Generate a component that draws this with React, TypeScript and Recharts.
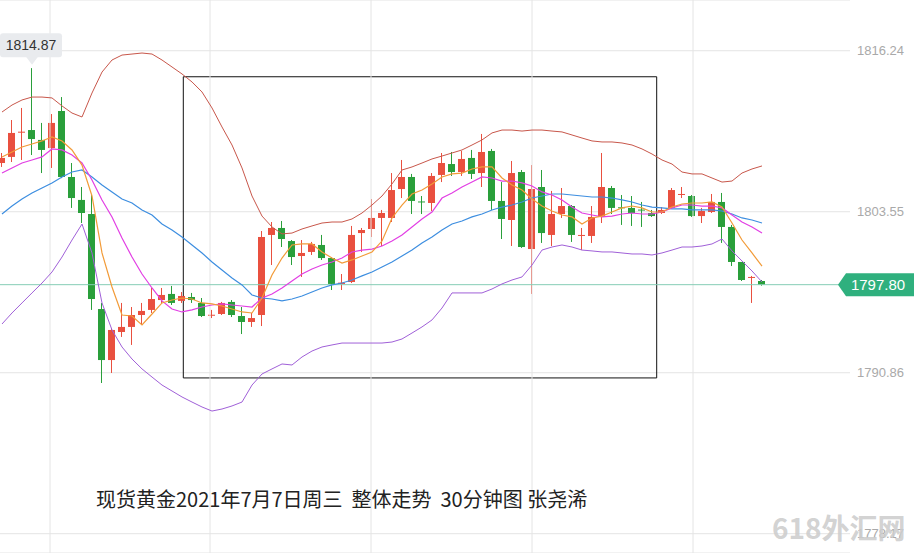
import React from "react";
import {
  ComposedChart,
  Bar,
  Line,
  XAxis,
  YAxis,
  CartesianGrid,
  ReferenceLine,
  ReferenceArea,
  ReferenceDot,
} from "recharts";

// 30-minute candles, spot gold, 2021-07-07
const openP = [
  1807.39, 1807.87, 1809.82, 1809.99, 1809.21, 1808.57, 1811.49, 1806.29, 1804.48, 1803.37,
  1795.88, 1791.86, 1794.07, 1794.47, 1795.41, 1795.81, 1796.59, 1797.07, 1796.52, 1796.83,
  1796.36, 1795.39, 1795.49, 1796.44, 1795.33, 1794.86, 1795.41, 1801.72, 1802.27, 1801.24,
  1800.06, 1800.38, 1800.93, 1799.9, 1797.86, 1798.01, 1801.87, 1802.19, 1803.06, 1803.06,
  1805.34, 1806.29, 1804.36, 1804.24, 1806.45, 1807.31, 1806.68, 1807.79, 1806.6, 1808.34,
  1804.4, 1802.9, 1806.68, 1800.61, 1805.5, 1801.72, 1803.37, 1804.0, 1801.68, 1801.64,
  1803.14, 1805.42, 1803.9, 1803.85, 1803.72, 1803.45, 1803.45, 1803.85, 1804.91, 1804.79,
  1803.21, 1803.53, 1804.32, 1802.35, 1799.59, 1798.37, 1798.09,
];
const highP = [
  1808.18, 1810.78, 1811.73, 1814.87, 1810.55, 1811.25, 1812.59, 1807.39, 1805.5, 1804.87,
  1796.36, 1794.39, 1796.36, 1796.04, 1796.36, 1797.54, 1797.54, 1797.7, 1797.22, 1797.15,
  1796.75, 1795.81, 1796.44, 1796.59, 1796.04, 1795.57, 1802.03, 1802.74, 1802.82, 1801.32,
  1801.32, 1801.17, 1801.72, 1799.98, 1798.64, 1802.43, 1802.27, 1804.55, 1803.69, 1806.6,
  1807.63, 1806.53, 1804.79, 1806.6, 1808.18, 1808.26, 1808.34, 1808.42, 1809.68, 1808.5,
  1805.89, 1807.55, 1806.84, 1807.23, 1806.84, 1805.19, 1805.42, 1804.08, 1802.27, 1804.0,
  1808.18, 1805.58, 1804.87, 1804.79, 1804.32, 1803.69, 1803.92, 1805.42, 1805.5, 1804.87,
  1803.85, 1804.95, 1805.03, 1802.51, 1799.59, 1798.49, 1798.17,
];
const lowP = [
  1807.08, 1807.47, 1807.63, 1808.02, 1806.6, 1807.0, 1806.2, 1803.85, 1802.66, 1795.81,
  1790.05, 1790.84, 1793.68, 1793.05, 1794.62, 1795.57, 1796.36, 1796.2, 1796.36, 1796.36,
  1795.25, 1795.17, 1795.41, 1795.25, 1793.91, 1794.47, 1794.54, 1799.35, 1800.77, 1799.35,
  1798.41, 1800.14, 1799.75, 1797.38, 1797.38, 1797.93, 1800.38, 1801.56, 1800.85, 1802.74,
  1804.63, 1803.37, 1803.37, 1803.61, 1805.89, 1806.37, 1806.37, 1806.13, 1805.5, 1803.69,
  1801.4, 1800.85, 1800.7, 1797.07, 1801.09, 1800.85, 1803.06, 1801.17, 1800.53, 1801.09,
  1802.66, 1803.37, 1802.51, 1802.43, 1802.35, 1803.14, 1803.37, 1803.77, 1804.63, 1803.14,
  1802.66, 1803.45, 1801.09, 1799.27, 1798.09, 1796.36, 1797.72,
];
const closeP = [
  1807.79, 1809.76, 1809.86, 1809.28, 1808.42, 1810.55, 1806.29, 1804.63, 1803.45, 1796.67,
  1791.86, 1794.23, 1794.47, 1795.41, 1795.73, 1796.67, 1796.99, 1796.36, 1796.91, 1796.59,
  1795.33, 1795.43, 1796.36, 1795.41, 1794.86, 1795.17, 1801.56, 1802.27, 1801.4, 1799.98,
  1800.3, 1801.01, 1799.9, 1797.86, 1797.96, 1801.72, 1802.11, 1803.06, 1803.45, 1805.26,
  1806.29, 1804.4, 1804.32, 1806.37, 1807.39, 1806.68, 1807.71, 1806.53, 1808.26, 1804.4,
  1802.98, 1806.6, 1800.77, 1805.34, 1801.87, 1803.37, 1804.0, 1801.72, 1801.72, 1803.14,
  1805.5, 1803.85, 1803.85, 1803.45, 1803.69, 1803.21, 1803.69, 1805.26, 1804.95, 1803.21,
  1803.61, 1804.32, 1802.35, 1799.59, 1798.17, 1798.41, 1797.8,
];

// Bollinger bands (upper / middle / lower)
const bollUp = [
  1811.41, 1811.96, 1812.36, 1812.59, 1812.59, 1812.52, 1811.89, 1811.33, 1811.02, 1812.91,
  1814.56, 1815.51, 1815.9, 1815.98, 1816.06, 1815.98, 1815.51, 1814.96, 1814.41, 1813.78,
  1812.99, 1811.73, 1810.23, 1808.81, 1807.0, 1804.79, 1803.21, 1802.35, 1801.8, 1801.87,
  1802.19, 1802.43, 1802.66, 1802.74, 1802.74, 1802.98, 1803.45, 1804.08, 1804.79, 1805.74,
  1806.84, 1807.08, 1807.39, 1807.71, 1807.94, 1808.18, 1808.42, 1808.81, 1809.21, 1809.76,
  1809.99, 1809.99, 1809.91, 1809.99, 1809.99, 1809.91, 1809.84, 1809.6, 1809.36, 1809.13,
  1809.05, 1809.05, 1808.97, 1808.81, 1808.5, 1808.1, 1807.63, 1807.31, 1806.68, 1806.53,
  1806.53, 1806.21, 1805.89, 1805.97, 1806.6, 1806.92, 1807.16,
];
const bollMid = [
  1803.37, 1804.0, 1804.55, 1805.03, 1805.42, 1805.82, 1806.29, 1806.68, 1806.84, 1806.29,
  1805.66, 1805.11, 1804.55, 1804.24, 1803.69, 1803.29, 1802.58, 1802.11, 1801.56, 1800.93,
  1800.3, 1799.59, 1798.96, 1798.33, 1797.78, 1796.99, 1796.75, 1796.67, 1796.52, 1796.67,
  1796.91, 1797.22, 1797.54, 1797.78, 1797.93, 1798.17, 1798.49, 1798.8, 1799.2, 1799.59,
  1800.06, 1800.53, 1801.09, 1801.56, 1802.11, 1802.58, 1802.82, 1803.14, 1803.37, 1803.69,
  1803.92, 1804.08, 1804.32, 1804.63, 1804.79, 1804.95, 1804.95, 1804.87, 1804.79, 1804.71,
  1804.71, 1804.63, 1804.48, 1804.32, 1804.08, 1803.92, 1803.85, 1803.77, 1803.77, 1803.69,
  1803.69, 1803.69, 1803.61, 1803.37, 1803.06, 1802.9, 1802.66,
];
const bollDn = [
  1794.7, 1795.57, 1796.36, 1797.15, 1797.93, 1798.8, 1799.98, 1801.32, 1802.58, 1800.3,
  1796.36, 1794.23, 1792.89, 1791.94, 1791.16, 1790.52, 1789.89, 1789.42, 1788.95, 1788.55,
  1788.16, 1787.84, 1788.0, 1788.24, 1788.55, 1789.89, 1790.76, 1791.16, 1791.55, 1791.47,
  1792.1, 1792.57, 1792.89, 1793.05, 1793.2, 1793.2, 1793.2, 1793.2, 1793.2, 1793.28,
  1793.52, 1793.99, 1794.47, 1795.02, 1795.96, 1797.15, 1797.15, 1797.15, 1797.15, 1797.46,
  1797.86, 1798.17, 1798.41, 1799.35, 1800.53, 1800.77, 1800.93, 1800.77, 1800.53, 1800.46,
  1800.38, 1800.38, 1800.3, 1800.22, 1800.22, 1800.14, 1800.3, 1800.53, 1800.77, 1800.77,
  1800.85, 1801.01, 1801.4, 1800.46, 1799.67, 1798.88, 1798.01,
];

// moving averages
const ma5 = [
  1807.87, 1808.26, 1808.65, 1808.89, 1809.13, 1809.44, 1809.13, 1808.42, 1807.23, 1804.79,
  1800.3, 1797.62, 1795.41, 1795.33, 1794.62, 1795.49, 1796.36, 1796.59, 1796.75, 1796.67,
  1796.36, 1796.28, 1796.12, 1795.88, 1795.65, 1795.57, 1796.75, 1798.56, 1799.9, 1800.93,
  1801.01, 1801.01, 1800.38, 1799.9, 1799.51, 1799.75, 1800.06, 1800.38, 1801.24, 1803.06,
  1804.08, 1804.95, 1805.26, 1805.74, 1806.29, 1806.53, 1806.6, 1806.92, 1807.08, 1807.08,
  1806.21, 1805.66, 1805.26, 1804.55, 1804.0, 1803.61, 1803.29, 1803.14, 1802.58, 1803.06,
  1803.21, 1803.53, 1803.85, 1804.0, 1803.85, 1803.53, 1803.53, 1803.92, 1804.16, 1804.24,
  1804.24, 1804.32, 1803.92, 1802.66, 1801.32, 1800.3, 1799.27,
];
const ma10 = [
  1806.6, 1807.0, 1807.39, 1807.63, 1807.87, 1808.5, 1808.42, 1808.02, 1807.39, 1806.05,
  1804.48, 1803.14, 1801.48, 1799.98, 1798.64, 1797.54, 1796.52, 1795.88, 1795.65, 1795.81,
  1796.04, 1796.2, 1796.28, 1796.2, 1796.12, 1796.04, 1796.75, 1797.07, 1797.54, 1798.09,
  1798.64, 1799.04, 1799.35, 1799.59, 1799.9, 1800.38, 1800.53, 1800.61, 1800.85, 1801.24,
  1801.72, 1802.35, 1802.98, 1803.53, 1804.63, 1805.03, 1805.5, 1805.89, 1806.29, 1806.21,
  1805.97, 1805.97, 1805.82, 1805.58, 1805.11, 1804.87, 1804.48, 1803.92, 1803.45, 1803.29,
  1803.14, 1803.21, 1803.37, 1803.45, 1803.37, 1803.37, 1803.53, 1803.85, 1804.08, 1804.08,
  1804.0, 1804.0, 1803.85, 1803.29, 1802.74, 1802.35, 1801.87,
];

const priceTicks = [1778.17, 1790.86, 1803.55, 1816.24];
const timeGrid = [4.8, 20.8, 36.9, 53.0, 69.1];
const lastPrice = 1797.8;
const marked = { i: 3, value: 1814.87 };
const box = { x1: 18.13, x2: 65.47, y1: 1790.45, y2: 1814.19 };

const UP = "#e9503f";
const DOWN = "#2a9f3b";

const data = openP.map((open, i) => ({
  i,
  open,
  high: highP[i],
  low: lowP[i],
  close: closeP[i],
  up: bollUp[i],
  mid: bollMid[i],
  dn: bollDn[i],
  ma5: ma5[i],
  ma10: ma10[i],
}));

function Candle(props: any) {
  const { x, y, width, height, payload } = props;
  if (x == null || !payload) return null;
  const top = Math.min(y, y + height);
  const h = Math.abs(height);
  const { open, close, high, low } = payload;
  const span = high - low || 1;
  const py = (v: number) => top + ((high - v) / span) * h;
  const color = close >= open ? UP : DOWN;
  const cx = x + width / 2;
  const bTop = py(Math.max(open, close));
  const bH = Math.max(1, py(Math.min(open, close)) - bTop);
  return (
    <g>
      <line x1={cx} x2={cx} y1={top} y2={top + h} stroke={color} strokeWidth={1} />
      <rect x={x} y={bTop} width={width} height={bH} fill={color} />
    </g>
  );
}

function HighTag(props: any) {
  const { cx, cy } = props;
  if (cx == null) return null;
  return (
    <g>
      <rect x={cx - 32} y={cy - 35} width={62} height={24} rx={3} fill="#e9ebee" />
      <path d={`M${cx - 6},${cy - 11.5} L${cx + 6},${cy - 11.5} L${cx},${cy - 3.5} Z`} fill="#e9ebee" />
      <text x={cx - 1} y={cy - 18} textAnchor="middle" fontSize={14} fill="#333" fontFamily="Liberation Sans, Arial">
        {marked.value.toFixed(2)}
      </text>
    </g>
  );
}

function PriceTag(props: any) {
  const vb = props.viewBox || {};
  const y = vb.y;
  if (y == null) return null;
  const left = 838;
  return (
    <g>
      <path
        d={`M${left},${y} L${left + 8},${y - 11.5} L914,${y - 11.5} L914,${y + 11.5} L${left + 8},${y + 11.5} Z`}
        fill="#2fb07e"
      />
      <text x={878} y={y + 5.5} textAnchor="middle" fontSize={15} fill="#fff" fontFamily="Liberation Sans, Arial">
        {lastPrice.toFixed(2)}
      </text>
    </g>
  );
}

export default function App() {
  return (
    <div style={{ position: "absolute", left: 0, top: 0, width: 914, height: 553, background: "#fff", overflow: "hidden" }}>
      <ComposedChart width={914} height={553} data={data} margin={{ top: 0, right: 0, bottom: 0, left: 0 }}>
        <CartesianGrid vertical={false} stroke="#e4e4e4" />
        <XAxis dataKey="i" type="number" domain={[-0.2, 84.8]} hide allowDataOverflow />
        <YAxis
          orientation="right"
          width={64}
          domain={[1776.65, 1820.24]}
          ticks={priceTicks}
          allowDataOverflow
          axisLine={false}
          tickLine={false}
          tickSize={0}
          tickMargin={7}
          tickFormatter={(v: number) => v.toFixed(2)}
          tick={{ fontSize: 13, fill: "#a9a9a9", fontFamily: "Liberation Sans, Arial" }}
        />
        {timeGrid.map((t) => (
          <ReferenceLine key={t} x={t} stroke="#e4e4e4" />
        ))}
        <ReferenceArea {...box} fill="none" fillOpacity={0} stroke="#111" strokeWidth={1} strokeOpacity={1} />
        <ReferenceLine y={lastPrice} stroke="#86cdb6" strokeWidth={1} label={<PriceTag />} />
        <Line dataKey="up" stroke="#c8574b" strokeWidth={1} dot={false} activeDot={false} isAnimationActive={false} />
        <Line dataKey="mid" stroke="#3d8ee0" strokeWidth={1.2} dot={false} activeDot={false} isAnimationActive={false} />
        <Line dataKey="dn" stroke="#a060d8" strokeWidth={1} dot={false} activeDot={false} isAnimationActive={false} />
        <Bar dataKey={(d: any) => [d.low, d.high]} barSize={7} shape={<Candle />} activeBar={false} isAnimationActive={false} />
        <Line dataKey="ma10" stroke="#e23fe4" strokeWidth={1.2} dot={false} activeDot={false} isAnimationActive={false} />
        <Line dataKey="ma5" stroke="#f29b38" strokeWidth={1.2} dot={false} activeDot={false} isAnimationActive={false} />
        <ReferenceDot x={marked.i} y={marked.value} r={0} shape={<HighTag />} />
      </ComposedChart>
      <div
        style={{
          position: "absolute",
          left: 96,
          top: 484,
          fontSize: 20,
          color: "#222",
          whiteSpace: "pre",
          fontFamily: "'Noto Sans CJK SC', 'Noto Sans', sans-serif",
        }}
      >
        现货黄金2021年7月7日周三  整体走势  30分钟图 张尧浠
      </div>
      <div
        style={{
          position: "absolute",
          left: 772,
          top: 507,
          fontSize: 28,
          fontWeight: 700,
          color: "rgba(205,205,205,0.9)",
          fontFamily: "'Noto Sans CJK SC', sans-serif",
          whiteSpace: "pre",
        }}
      >
        618外汇网
      </div>
    </div>
  );
}
